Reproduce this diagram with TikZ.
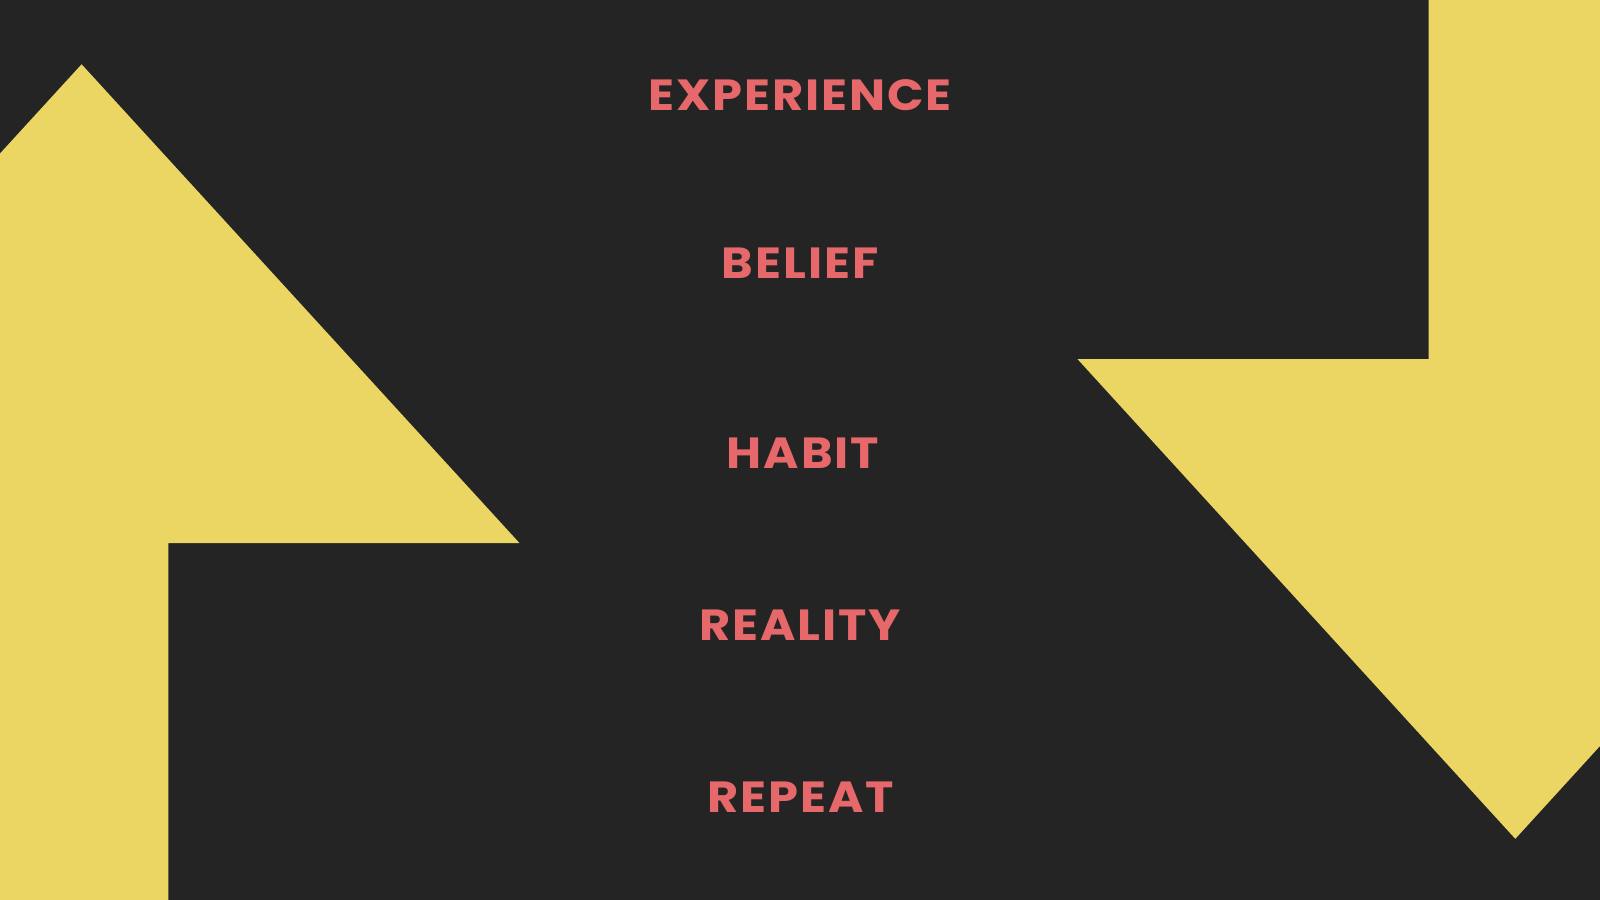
\documentclass[tikz,border=0pt]{standalone}
\usepackage{fontspec}
\setmainfont{Poppins}
\usetikzlibrary{calc}
\definecolor{bgdark}{HTML}{242424}
\definecolor{arrowyel}{HTML}{EBD563}
\definecolor{wordred}{HTML}{E6686A}
\tikzset{zarrow/.style={
  fill=arrowyel,
  draw=none}}
\tikzset{zword/.style={
  text=wordred,
  inner sep=0pt,
  anchor=center,
  font=\fontsize{12.4}{14}\selectfont\bfseries\addfontfeature{FakeStretch=1.1,LetterSpace=4.5}}}

\begin{document}
\begin{tikzpicture}[x=0.01cm,y=-0.01cm]

  %%%% Background and frame %%%%
  \fill[bgdark] (0,0) rectangle (1600,900);
  \useasboundingbox (0,0) rectangle (1600,900);

  %% Left arrow, pointing up
  \begin{scope}
    \clip (0,0) rectangle (1600,900);
    \fill[zarrow] (81.6,64.3) -- (519.4,543) -- (168.4,543) -- (168.4,920)
      -- (-5.2,920) -- (-5.2,543) -- (-356.2,543) -- cycle;
    %% Right arrow, pointing down (same shape turned round the centre)
    \fill[zarrow] (1515.3,838.8) -- (1077.6,359.2) -- (1428.6,359.2) -- (1428.6,-20)
      -- (1602,-20) -- (1602,359.2) -- (1953,359.2) -- cycle;
  \end{scope}

  %% The words
  \node[zword] (exp) at (800,95)  {EXPERIENCE};
  \node[zword] (bel) at (800,263) {BELIEF};
  \node[zword] (hab) at (803,453) {HABIT};
  \node[zword] (rea) at (800,625) {REALITY};
  \node[zword] (rep) at (801,797) {REPEAT};

\end{tikzpicture}
\end{document}
